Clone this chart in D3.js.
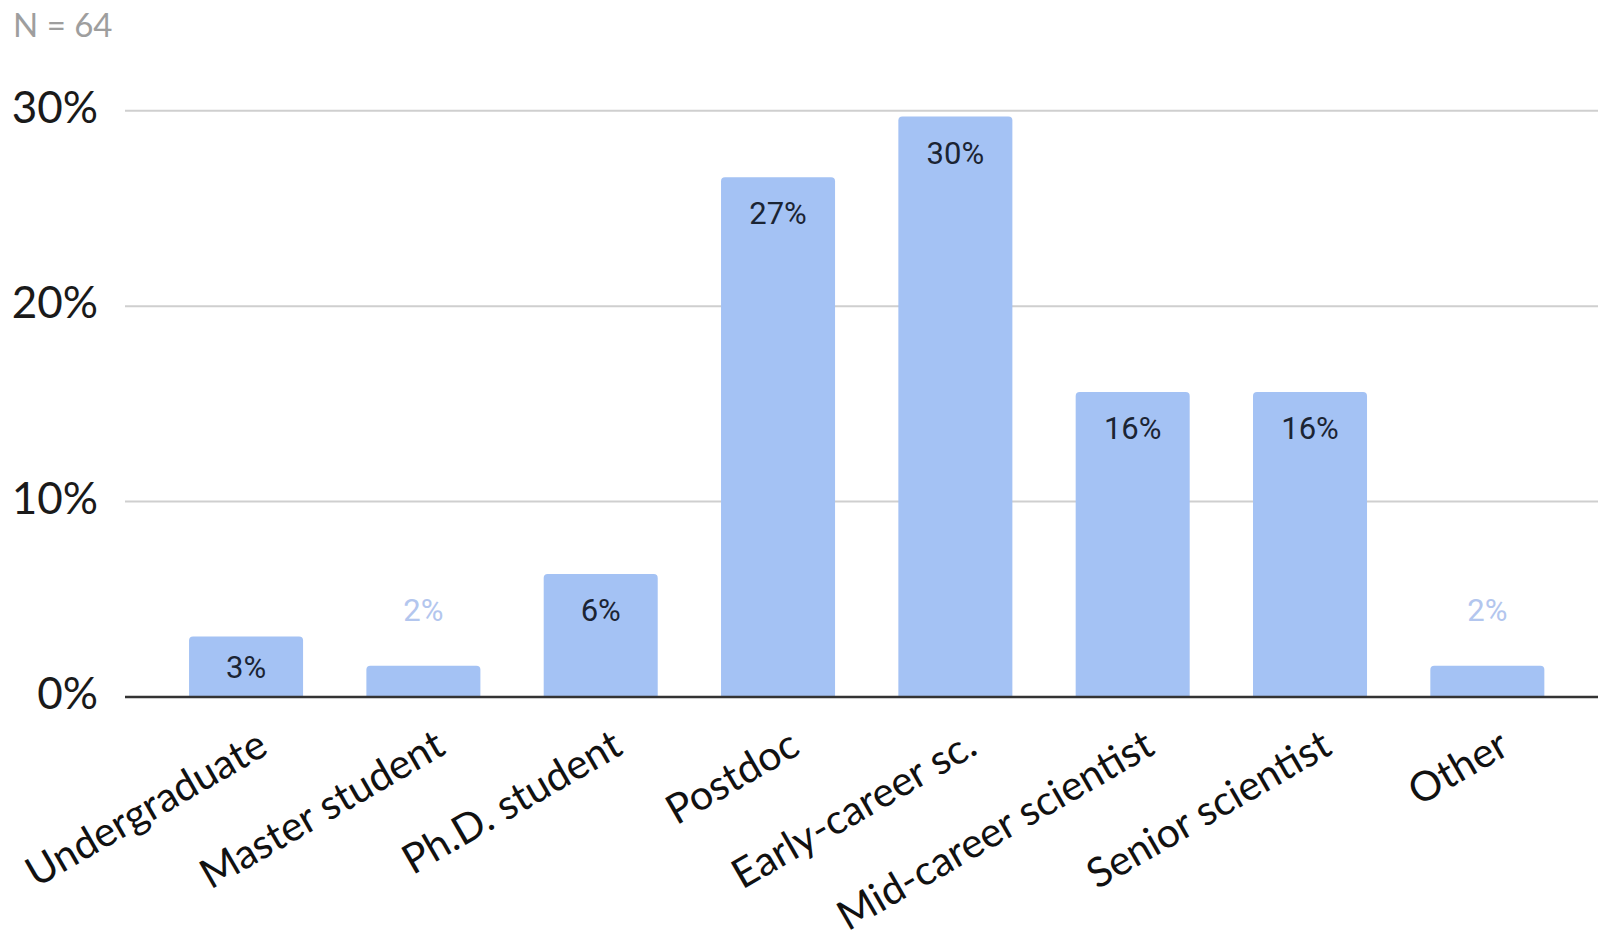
<!doctype html>
<html>
<head>
<meta charset="utf-8">
<script src="https://cdnjs.cloudflare.com/ajax/libs/d3/7.8.5/d3.min.js"></script>
<style>
body { margin: 0; background: #fff; }
svg { display: block; }
</style>
</head>
<body>
<div id="chart"></div>
<script>
// share of respondents (N = 64), in percent
var categories = ["Undergraduate", "Master student", "Ph.D. student", "Postdoc",
                  "Early-career sc.", "Mid-career scientist", "Senior scientist", "Other"];
var shares = [3.1, 1.6, 6.3, 26.6, 29.7, 15.6, 15.6, 1.6];
var yTicks = [0, 10, 20, 30];
var sampleNote = "N = 64";

var width = 1598, height = 937;

var svg = d3.select("#chart").append("svg")
  .attr("width", width)
  .attr("height", height);

var x = d3.scaleBand()
  .domain(categories)
  .range([157.4, 1576])
  .paddingInner(0.357)
  .paddingOuter(0.1785);

var y = d3.scaleLinear()
  .domain([0, 30])
  .range([697, 110.7]);

// note in the corner
svg.append("text")
  .attr("x", 13).attr("y", 37)
  .attr("font-family", "Lato, sans-serif")
  .attr("font-size", 33)
  .attr("fill", "#9e9e9e")
  .text(sampleNote);

// gridlines
svg.selectAll(".grid")
  .data(yTicks.filter(function(d){ return d > 0; }))
  .enter().append("line")
  .attr("class", "grid")
  .attr("x1", 125).attr("x2", width)
  .attr("y1", function(d){ return y(d); })
  .attr("y2", function(d){ return y(d); })
  .attr("stroke", "#cfcfcf")
  .attr("stroke-width", 2);

// y labels
svg.selectAll(".ylab")
  .data(yTicks)
  .enter().append("text")
  .attr("class", "ylab")
  .attr("x", 98)
  .attr("y", function(d){ return y(d) + 12; })
  .attr("text-anchor", "end")
  .attr("font-family", "Lato, sans-serif")
  .attr("font-size", 44)
  .attr("fill", "#1a1a1a")
  .text(function(d){ return d + "%"; });

// bars with rounded top corners
function barPath(d, i) {
  var x0 = x(categories[i]), w = x.bandwidth();
  var y0 = y(d), yb = y(0), r = 4;
  return "M" + x0 + "," + yb +
    "V" + (y0 + r) +
    "Q" + x0 + "," + y0 + " " + (x0 + r) + "," + y0 +
    "H" + (x0 + w - r) +
    "Q" + (x0 + w) + "," + y0 + " " + (x0 + w) + "," + (y0 + r) +
    "V" + yb + "Z";
}

svg.selectAll(".bar")
  .data(shares)
  .enter().append("path")
  .attr("class", "bar")
  .attr("d", barPath)
  .attr("fill", "#a4c2f4");

// value labels
svg.selectAll(".val")
  .data(shares)
  .enter().append("text")
  .attr("class", "val")
  .attr("x", function(d, i){ return x(categories[i]) + x.bandwidth() / 2; })
  .attr("y", function(d){
    var h = y(0) - y(d);
    if (h < 50) return y(d) - 45;
    return Math.min(y(d) + 47, y(0) - 19);
  })
  .attr("text-anchor", "middle")
  .attr("font-family", "Roboto, sans-serif")
  .attr("font-size", 31)
  .attr("fill", function(d){ return (y(0) - y(d)) < 50 ? "#b3c6ee" : "#1b2433"; })
  .text(function(d){ return Math.round(d) + "%"; });

// baseline
svg.append("line")
  .attr("x1", 125).attr("x2", width)
  .attr("y1", y(0)).attr("y2", y(0))
  .attr("stroke", "#333")
  .attr("stroke-width", 2.5);

// category labels, rotated
svg.selectAll(".xlab")
  .data(categories)
  .enter().append("text")
  .attr("class", "xlab")
  .attr("transform", function(d){
    var cx = x(d) + x.bandwidth() / 2 + 24;
    return "translate(" + cx + ",753) rotate(-30)";
  })
  .attr("text-anchor", "end")
  .attr("font-family", "Lato, sans-serif")
  .attr("font-size", 41)
  .attr("fill", "#111")
  .text(function(d){ return d; });
</script>
</body>
</html>
